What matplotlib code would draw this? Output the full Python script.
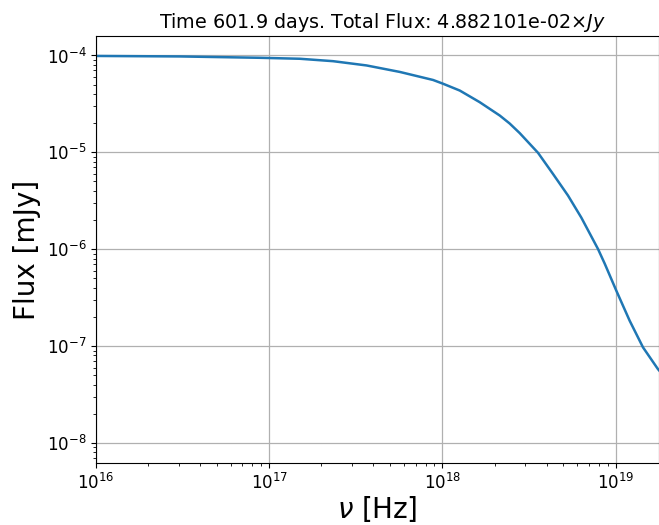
import numpy as np
import matplotlib.pyplot as plt

# frecuencias (log10 Hz) y flujo (log10 mJy)
log_nu = [16.0, 16.485, 16.946, 17.177, 17.369, 17.562, 17.754, 17.946, 18.004,
          18.100, 18.215, 18.331, 18.388, 18.446, 18.552, 18.638, 18.725, 18.802,
          18.898, 18.937, 19.004, 19.081, 19.158, 19.244, 19.26]
log_flux = [-4.005, -4.010, -4.024, -4.034, -4.059, -4.103, -4.170, -4.253, -4.292,
            -4.362, -4.482, -4.620, -4.702, -4.801, -5.005, -5.222, -5.446, -5.674,
            -5.997, -6.149, -6.428, -6.738, -7.013, -7.237, -7.27]

nu = 10.0 ** np.array(log_nu)
flux = 10.0 ** np.array(log_flux)

fig = plt.figure(figsize=(6.59, 5.25), dpi=100)
ax = fig.add_axes([0.1457, 0.118, 0.8543, 0.813])

ax.loglog(nu, flux, color="#1f77b4", linewidth=1.8)
ax.set_xlim(1e16, 1.78e19)
ax.set_ylim(6.2e-9, 1.58e-4)
ax.grid(True, which="major", color="#b0b0b0", linewidth=0.9)
ax.tick_params(labelsize=12)

ax.set_xlabel(r"$\nu$ [Hz]", fontsize=20, labelpad=1)
ax.set_ylabel("Flux [mJy]", fontsize=20)
ax.set_title(r"Time 601.9 days. Total Flux: 4.882101e-02$\times Jy$", fontsize=13.8, x=0.508)

fig.savefig("out.png", dpi=100)
